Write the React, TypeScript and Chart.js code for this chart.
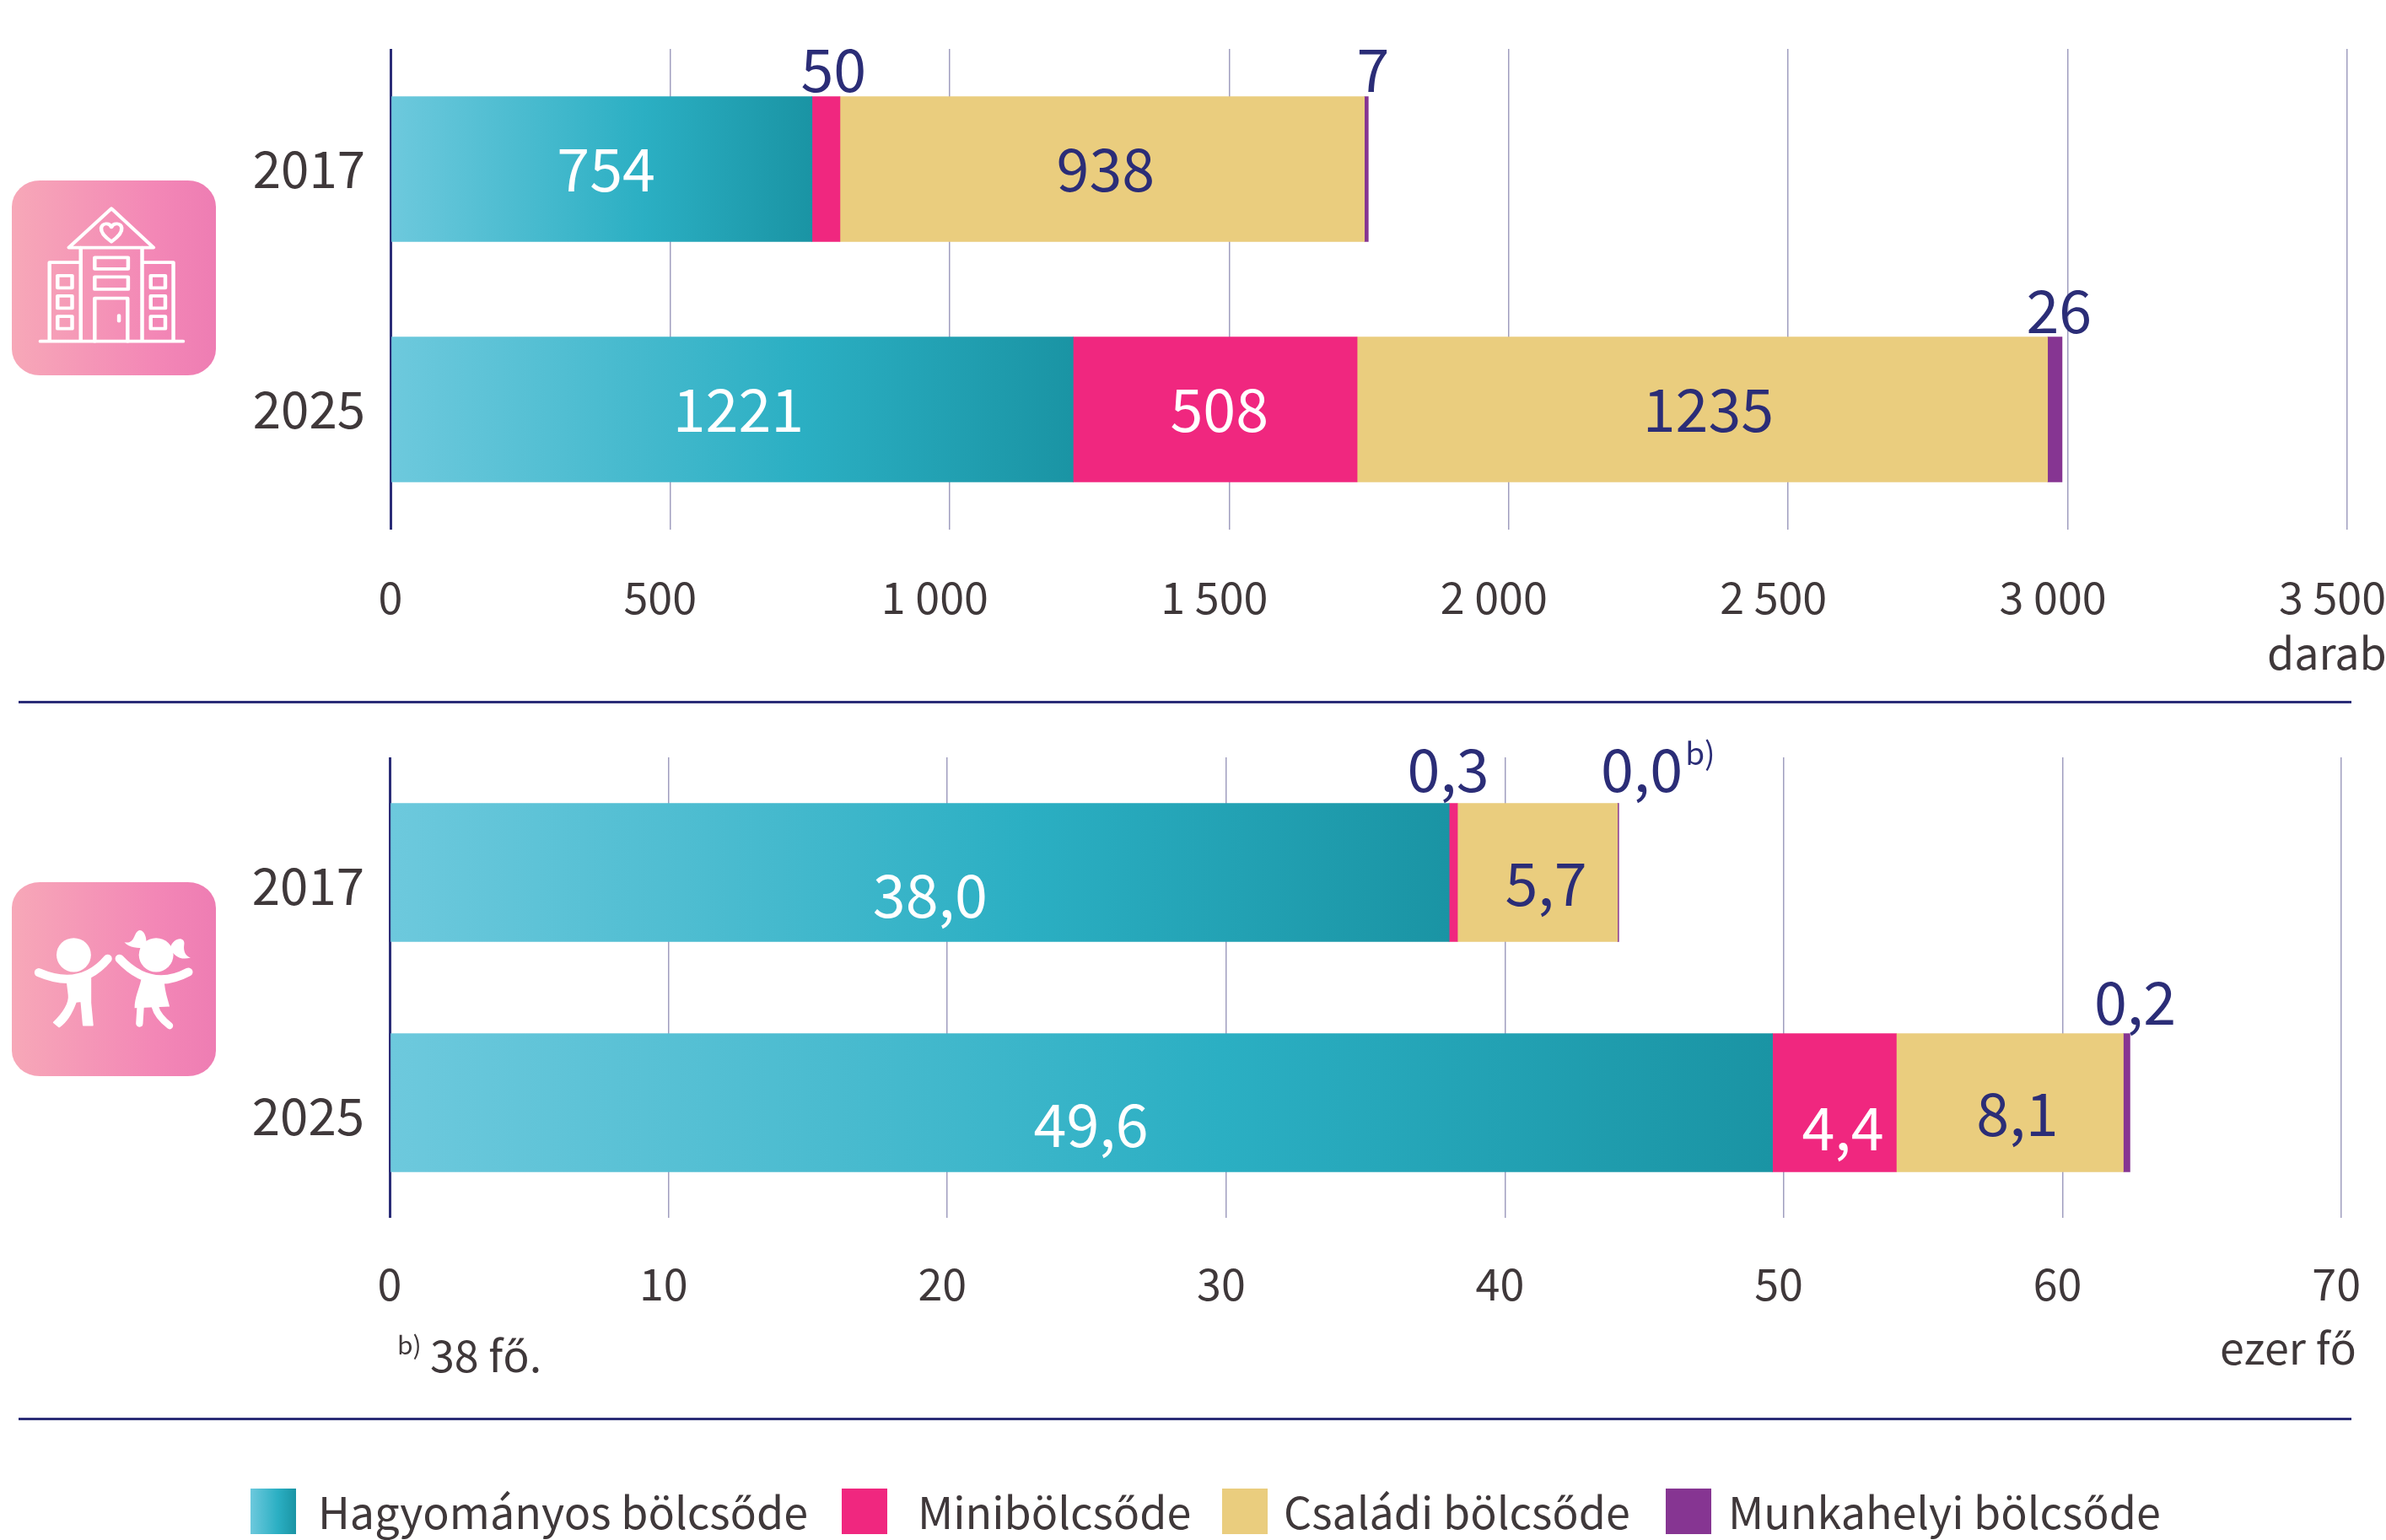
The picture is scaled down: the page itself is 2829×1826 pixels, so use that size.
import React, { useEffect, useRef } from "react";
import { Chart, registerables } from "chart.js";

Chart.register(...registerables);

const years = ["2017", "2025"];
const seriesNames = ["Hagyományos bölcsőde", "Minibölcsőde", "Családi bölcsőde", "Munkahelyi bölcsőde"];

const placesTraditional = [754, 1221];
const placesMini = [50, 508];
const placesFamily = [938, 1235];
const placesWorkplace = [7, 26];

const childrenTraditional = [38.0, 49.6];
const childrenMini = [0.3, 4.44];
const childrenFamily = [5.74, 8.14];
const childrenWorkplace = [0.045, 0.24];

const placesTicks = [0, 500, 1000, 1500, 2000, 2500, 3000, 3500];
const childrenTicks = [0, 10, 20, 30, 40, 50, 60, 70];

const FONT = '"Noto Sans CJK SC", "Noto Sans", sans-serif';
const INK = "#3f383a";
const NAVY = "#2b2d77";
const GRID = "#a09ebf";
const PINK = "#f0277f";
const TAN = "#eacd7e";
const PURPLE = "#863592";
const TEAL_STOPS: [number, string][] = [[0, "#6dc9dd"], [0.6, "#2bafc3"], [1, "#1a94a4"]];

type Offset = { dx: number; dy: number; color: string; sup?: string };
const W = "#ffffff";

const placesLabelPlan: Offset[][] = [
  [{ dx: 5, dy: 0, color: W }, { dx: 7, dy: 0, color: W }],
  [{ dx: 9, dy: -118, color: NAVY }, { dx: 5, dy: 0, color: W }],
  [{ dx: 4, dy: 0, color: NAVY }, { dx: 7, dy: 0, color: NAVY }],
  [{ dx: 8, dy: -118, color: NAVY }, { dx: 5, dy: -117, color: NAVY }],
];
const childrenLabelPlan: Offset[][] = [
  [{ dx: 12, dy: 27, color: W }, { dx: 11, dy: 26, color: W }],
  [{ dx: -6, dy: -122, color: NAVY }, { dx: 10, dy: 30, color: W }],
  [{ dx: 10, dy: 13, color: NAVY }, { dx: 9, dy: 13, color: NAVY }],
  [{ dx: 28, dy: -122, color: NAVY, sup: "b)" }, { dx: 10, dy: -119, color: NAVY }],
];

const labelsPlugin = {
  id: "barLabels",
  afterDatasetsDraw(chart: any, _a: any, opts: any) {
    const { ctx } = chart;
    ctx.save();
    ctx.textBaseline = "middle";
    ctx.textAlign = "center";
    chart.data.datasets.forEach((ds: any, d: number) => {
      chart.getDatasetMeta(d).data.forEach((bar: any, i: number) => {
        const plan: Offset = opts.plan[d][i];
        const text = opts.format(ds.data[i]);
        const cx = (bar.x + bar.base) / 2 + plan.dx;
        const cy = bar.y + plan.dy;
        ctx.font = `${opts.weight} ${opts.size}px ${FONT}`;
        ctx.fillStyle = plan.color;
        ctx.fillText(text, cx, cy);
        if (plan.sup) {
          const w = ctx.measureText(text).width;
          ctx.textAlign = "left";
          ctx.font = `${opts.weight} ${Math.round(opts.size * 0.53)}px ${FONT}`;
          ctx.fillText(plan.sup, cx + w / 2 + 3, cy - 20);
          ctx.textAlign = "center";
        }
      });
    });
    ctx.restore();
  },
};

function tealGradient(ctx: any) {
  const chart = ctx.chart;
  const x = chart.scales.x;
  if (!x || ctx.raw == null) return TEAL_STOPS[1][1];
  const x0 = x.getPixelForValue(0);
  const x1 = x.getPixelForValue(ctx.raw);
  if (!Number.isFinite(x0) || !Number.isFinite(x1)) return TEAL_STOPS[1][1];
  const g = chart.ctx.createLinearGradient(x0, 0, x1, 0);
  TEAL_STOPS.forEach(([s, c]) => g.addColorStop(s, c));
  return g;
}

type PanelProps = {
  top: number;
  height: number;
  axisLeft: number;
  axisRight: number;
  plotTop: number;
  plotBottom: number;
  values: number[][];
  ticks: number[];
  tickFont: number;
  tickPadding: number;
  yLabelOffset: number;
  barThickness: number;
  tickText: (v: number) => string;
  labelFormat: (v: number) => string;
  plan: Offset[][];
};

function Panel(p: PanelProps) {
  const ref = useRef<HTMLCanvasElement>(null);
  useEffect(() => {
    const colors: any[] = [tealGradient, PINK, TAN, PURPLE];
    const chart = new Chart(ref.current as HTMLCanvasElement, {
      type: "bar",
      data: {
        labels: years,
        datasets: p.values.map((data, i) => ({
          label: seriesNames[i],
          data,
          backgroundColor: colors[i],
          borderWidth: 0,
          barThickness: p.barThickness,
        })),
      },
      plugins: [labelsPlugin],
      options: {
        indexAxis: "y",
        responsive: false,
        animation: false,
        layout: { padding: { top: p.plotTop, right: 2829 - p.axisRight, left: 0, bottom: 0 } },
        scales: {
          x: {
            stacked: true,
            min: p.ticks[0],
            max: p.ticks[p.ticks.length - 1],
            afterBuildTicks: (s: any) => {
              s.ticks = p.ticks.map((value) => ({ value }));
            },
            afterFit: (s: any) => {
              s.height = p.height - p.plotBottom;
              s.paddingLeft = 0;
              s.paddingRight = 0;
            },
            border: { display: false },
            grid: {
              drawTicks: false,
              color: (c: any) => (c.tick && c.tick.value === 0 ? NAVY : GRID),
              lineWidth: (c: any) => (c.tick && c.tick.value === 0 ? 3 : 1.5),
            },
            ticks: {
              autoSkip: false,
              maxRotation: 0,
              padding: p.tickPadding,
              color: INK,
              font: { family: FONT, size: p.tickFont, weight: 400 },
              callback: (v: any) => p.tickText(Number(v)),
            },
          },
          y: {
            stacked: true,
            afterFit: (s: any) => {
              s.width = p.axisLeft;
              s.paddingTop = 0;
              s.paddingBottom = 0;
            },
            border: { display: false },
            grid: { display: false },
            ticks: {
              padding: 22,
              labelOffset: p.yLabelOffset,
              color: INK,
              font: { family: FONT, size: 60, weight: 400 },
            },
          },
        },
        plugins: {
          legend: { display: false },
          tooltip: { enabled: false },
          barLabels: { plan: p.plan, format: p.labelFormat, size: 70, weight: 400 },
        } as any,
      },
    } as any);
    return () => chart.destroy();
  }, []);
  return (
    <canvas
      ref={ref}
      width={2829}
      height={p.height}
      style={{ position: "absolute", left: 0, top: p.top, width: 2829, height: p.height }}
    />
  );
}

function spaced(text: string, n: number) {
  return text + " ".repeat(n);
}
const placesTickText = (v: number) => {
  const s = v >= 1000 ? `${Math.floor(v / 1000)} ${String(v % 1000).padStart(3, "0")}` : String(v);
  return spaced(s, v === 0 ? 0 : v < 1000 ? 2 : 3);
};
const childrenTickText = (v: number) => spaced(String(v), v === 0 ? 0 : 1);
const decimalLabel = (v: number) => v.toFixed(1).replace(".", ",");

function Txt(props: { x: number; y: number; size: number; right?: boolean; children: React.ReactNode }) {
  const { x, y, size, right, children } = props;
  return (
    <div
      style={{
        position: "absolute",
        top: y,
        lineHeight: 1,
        fontSize: size,
        fontFamily: FONT,
        color: INK,
        whiteSpace: "nowrap",
        ...(right ? { right: 2829 - x } : { left: x }),
      }}
    >
      {children}
    </div>
  );
}

const tile = (id: string) => (
  <>
    <defs>
      <linearGradient id={id} x1="0" x2="1" y1="0" y2="0">
        <stop offset="0" stopColor="#f7a8b8" />
        <stop offset="0.7" stopColor="#f387b6" />
        <stop offset="1" stopColor="#ee7db3" />
      </linearGradient>
    </defs>
  </>
);

function BuildingIcon() {
  const w = { fill: "none", stroke: "#fff", strokeWidth: 7, strokeLinejoin: "round" as const, strokeLinecap: "round" as const };
  const side = [610, 655, 700];
  return (
    <svg
      viewBox="22 400 379 430"
      preserveAspectRatio="none"
      style={{ position: "absolute", left: 14, top: 214, width: 242, height: 231 }}
    >
      {tile("tileA")}
      <rect x="22" y="400" width="379" height="430" rx="52" ry="58" fill="url(#tileA)" />
      <path d="M207 462 L285 548 L128 548 Z" {...w} />
      <path d="M207 535 C195 525 187 515 188 505 C190 494 203 492 207 503 C211 492 225 494 226 505 C227 515 219 525 207 535 Z" {...w} />
      <path d="M150 548 V755 M264 548 V755 M92 755 V581 H150 M322 755 V581 H264 M75 755 H340" {...w} />
      <rect x="176" y="570" width="62" height="25" {...w} />
      <rect x="176" y="613" width="62" height="27" {...w} />
      <path d="M176 755 V660 H237 V755" {...w} />
      <path d="M221 698 V710" {...w} />
      {side.map((y) => (
        <g key={y}>
          <rect x="107" y={y} width="27" height="27" {...w} />
          <rect x="280" y={y} width="27" height="27" {...w} />
        </g>
      ))}
    </svg>
  );
}

function KidsIcon() {
  const limb = { fill: "none", stroke: "#fff", strokeWidth: 16, strokeLinecap: "round" as const };
  return (
    <svg
      viewBox="22 328 379 365"
      preserveAspectRatio="none"
      style={{ position: "absolute", left: 14, top: 1046, width: 242, height: 230 }}
    >
      {tile("tileB")}
      <rect x="22" y="328" width="379" height="365" rx="52" ry="48" fill="url(#tileB)" />
      <circle cx="137" cy="465" r="32" fill="#fff" />
      <path d="M72 498 Q150 532 200 472" {...limb} />
      <path d="M125 515 L168 508 L168 555 L172 597 L155 597 L151 552 L141 553 C132 578 122 592 110 600 L100 592 C118 575 130 555 128 540 Z" fill="#fff" stroke="#fff" strokeWidth="3" strokeLinejoin="round" />
      <circle cx="290" cy="465" r="32" fill="#fff" />
      <path d="M222 472 Q280 535 350 497" {...limb} />
      <path d="M262 512 L305 512 C306 535 312 548 315 562 L250 565 C250 545 258 530 262 512 Z" fill="#fff" />
      <path d="M261 562 L259 594 M288 562 C292 578 305 590 315 598" {...limb} strokeWidth="13" />
      <path d="M268 452 C278 435 265 412 256 420 C248 426 250 445 231 441 C240 452 258 452 268 452 Z" fill="#fff" />
      <path d="M316 452 C322 430 345 430 342 446 C340 458 345 468 354 470 C335 476 322 466 316 452 Z" fill="#fff" />
    </svg>
  );
}

const legendSwatches = [
  { x: 297, w: 54, bg: `linear-gradient(90deg, ${TEAL_STOPS.map(([s, c]) => `${c} ${s * 100}%`).join(", ")})` },
  { x: 998, w: 54, bg: PINK },
  { x: 1449, w: 54, bg: TAN },
  { x: 1975, w: 54, bg: PURPLE },
];
const legendTextX = [377, 1088, 1522, 2049];

export default function App() {
  return (
    <div style={{ position: "absolute", left: 0, top: 0, width: 2829, height: 1826, overflow: "hidden", background: "#fff" }}>
      <Panel
        top={0}
        height={832}
        axisLeft={463}
        axisRight={2783}
        plotTop={58}
        plotBottom={628}
        values={[placesTraditional, placesMini, placesFamily, placesWorkplace]}
        ticks={placesTicks}
        tickFont={52}
        tickPadding={49}
        yLabelOffset={0}
        barThickness={172}
        tickText={placesTickText}
        labelFormat={(v) => String(v)}
        plan={placesLabelPlan}
      />
      <Panel
        top={840}
        height={842}
        axisLeft={462}
        axisRight={2776}
        plotTop={58}
        plotBottom={604}
        values={[childrenTraditional, childrenMini, childrenFamily, childrenWorkplace]}
        ticks={childrenTicks}
        tickFont={52}
        tickPadding={47}
        yLabelOffset={16}
        barThickness={164}
        tickText={childrenTickText}
        labelFormat={decimalLabel}
        plan={childrenLabelPlan}
      />
      <BuildingIcon />
      <KidsIcon />
      <Txt x={2688} y={746} size={52}>darab</Txt>
      <Txt x={2794} y={1570} size={52} right>ezer fő</Txt>
      <Txt x={471} y={1578} size={30}>b)</Txt>
      <Txt x={510} y={1579} size={52}>38 fő.</Txt>
      <div style={{ position: "absolute", left: 22, top: 831, width: 2766, height: 3, background: NAVY }} />
      <div style={{ position: "absolute", left: 22, top: 1681, width: 2766, height: 3, background: NAVY }} />
      {legendSwatches.map((s, i) => (
        <div key={i} style={{ position: "absolute", left: s.x, top: 1765, width: s.w, height: 54, background: s.bg }} />
      ))}
      {seriesNames.map((n, i) => (
        <Txt key={n} x={legendTextX[i]} y={1765} size={52}>{n}</Txt>
      ))}
    </div>
  );
}
